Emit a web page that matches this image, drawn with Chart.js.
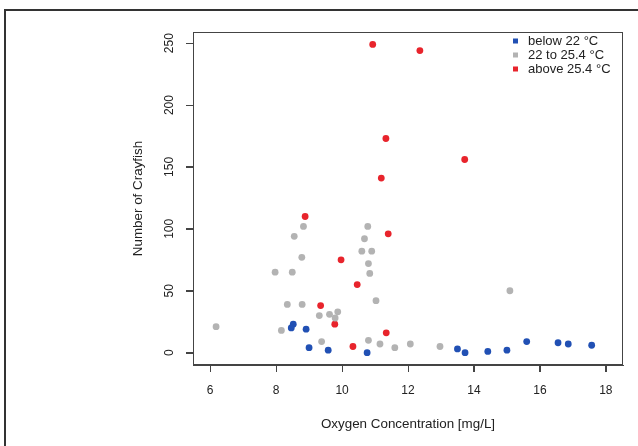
<!DOCTYPE html>
<html><head><meta charset="utf-8">
<script src="https://cdn.jsdelivr.net/npm/chart.js@4.4.1/dist/chart.umd.min.js"></script>
<style>
html,body{margin:0;padding:0;background:#fff;}
#wrap{position:relative;width:638px;height:446px;overflow:hidden;background:#fff;}
#frame{position:absolute;left:4px;top:9px;width:660px;height:460px;border-left:2px solid #333;border-top:2px solid #333;pointer-events:none;}
canvas{position:absolute;left:0;top:0;}
</style></head><body>
<div id="wrap"><canvas id="c" width="638" height="446"></canvas><div id="frame"></div></div>
<script>
// ---- data ----
const seriesLabels = ['below 22 °C', '22 to 25.4 °C', 'above 25.4 °C'];
const seriesColors = ['#2150b4', '#b3b3b3', '#e8242c'];

const belowX = [8.52, 8.46, 8.91, 9.00, 9.58, 10.76, 13.50, 13.73, 14.42, 15.00, 15.60, 16.55, 16.86, 17.57];
const belowY = [23, 20, 19, 4, 2, 0, 3, 0, 1, 2, 9, 8, 7, 6];

const midX = [6.18, 8.16, 7.97, 8.49, 8.34, 8.79, 8.55, 8.83, 8.78, 9.31, 9.62, 9.79, 9.87, 9.38,
              10.78, 10.68, 10.60, 10.90, 10.80, 10.84, 11.03, 10.80, 11.15, 11.60, 12.07, 12.97, 15.09];
const midY = [21, 18, 65, 65, 39, 39, 94, 102, 77, 30, 31, 28, 33, 9,
              102, 92, 82, 82, 72, 64, 42, 10, 7, 4, 7, 5, 50];

const aboveX = [10.93, 12.36, 11.33, 11.19, 13.72, 8.88, 11.40, 9.97, 10.46, 9.35, 9.78, 11.34, 10.33];
const aboveY = [249, 244, 173, 141, 156, 110, 96, 75, 55, 38, 23, 16, 5];

const xTicks = [6, 8, 10, 12, 14, 16, 18];
const yTicks = [0, 50, 100, 150, 200, 250];
const xRange = [5.48, 18.52];
const yRange = [-9.96, 259];

const xTitle = 'Oxygen Concentration [mg/L]';
const yTitle = 'Number of Crayfish';

// ---- build ----
const zip = (xs, ys) => xs.map((x, i) => ({x, y: ys[i]}));
const seriesData = [zip(belowX, belowY), zip(midX, midY), zip(aboveX, aboveY)];

const FONT = 'Liberation Sans, Arial, Helvetica, sans-serif';
const TEXT = '#222';
const AXIS = '#444';
const TICK_LEN = 7;

const boxPlugin = {
  id: 'plotBox',
  afterDatasetsDraw(chart) {
    const {ctx, chartArea: a, scales} = chart;
    ctx.save();
    ctx.strokeStyle = AXIS;
    ctx.lineWidth = 1;
    const L = Math.round(a.left), T = Math.round(a.top), R = Math.round(a.right), B = Math.round(a.bottom);
    ctx.strokeRect(L + 0.5, T + 0.5, R - L - 1, B - T - 1);
    // axis tick marks (R style, outward) placed through the chart scales
    ctx.beginPath();
    xTicks.forEach(v => {
      const px = Math.round(scales.x.getPixelForValue(v)) + 0.5;
      ctx.moveTo(px, B); ctx.lineTo(px, B + TICK_LEN);
    });
    yTicks.forEach(v => {
      const py = Math.round(scales.y.getPixelForValue(v)) + 0.5;
      ctx.moveTo(L, py); ctx.lineTo(L - TICK_LEN, py);
    });
    ctx.stroke();
    ctx.restore();
  }
};

const legendPlugin = {
  id: 'insideLegend',
  afterDraw(chart) {
    const {ctx, chartArea: a} = chart;
    ctx.save();
    ctx.font = '13px ' + FONT;
    ctx.textBaseline = 'middle';
    ctx.textAlign = 'left';
    chart.data.datasets.forEach((ds, i) => {
      const y = a.top + 9 + i * 14;
      ctx.fillStyle = ds.backgroundColor;
      ctx.fillRect(a.right - 110, y - 2.5, 5, 5);
      ctx.fillStyle = TEXT;
      ctx.fillText(ds.label, a.right - 95, y);
    });
    ctx.restore();
  }
};

new Chart(document.getElementById('c'), {
  type: 'scatter',
  data: {
    datasets: seriesData.map((d, i) => ({
      label: seriesLabels[i],
      data: d,
      backgroundColor: seriesColors[i],
      borderColor: seriesColors[i],
      borderWidth: 0,
      pointRadius: 3.4,
      pointHoverRadius: 3.4
    }))
  },
  options: {
    responsive: false,
    animation: false,
    devicePixelRatio: 1,
    layout: {padding: {top: 32, right: 15, left: 120, bottom: 0}},
    plugins: {legend: {display: false}, tooltip: {enabled: false}},
    scales: {
      x: {
        type: 'linear', min: xRange[0], max: xRange[1],
        afterBuildTicks: s => { s.ticks = xTicks.map(v => ({value: v})); },
        afterFit: s => { s.height = 81; },
        grid: {display: true, drawOnChartArea: false, drawTicks: true, tickLength: TICK_LEN, color: AXIS, lineWidth: 1},
        border: {display: true, color: AXIS},
        ticks: {autoSkip: false, maxRotation: 0, color: TEXT, font: {family: FONT, size: 12}, padding: 11},
        title: {display: true, text: xTitle, color: TEXT, font: {family: FONT, size: 13.4}, padding: {top: 0, bottom: 14}}
      },
      y: {
        type: 'linear', min: yRange[0], max: yRange[1],
        afterBuildTicks: s => { s.ticks = yTicks.map(v => ({value: v})); },
        afterFit: s => { s.width = 73; },
        grid: {display: true, drawOnChartArea: false, drawTicks: true, tickLength: TICK_LEN, color: AXIS, lineWidth: 1},
        border: {display: true, color: AXIS},
        ticks: {autoSkip: false, minRotation: 90, maxRotation: 90, crossAlign: 'center', color: TEXT, font: {family: FONT, size: 12}, padding: 6},
        title: {display: true, text: yTitle, color: TEXT, font: {family: FONT, size: 13.4}, padding: {top: 10, bottom: 0}}
      }
    }
  },
  plugins: [boxPlugin, legendPlugin]
});
</script>
</body></html>
